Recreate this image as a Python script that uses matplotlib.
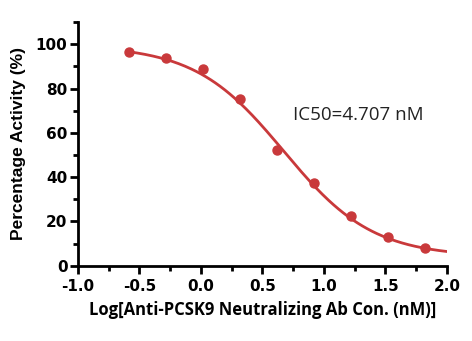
import matplotlib
matplotlib.use('Agg')
import matplotlib.pyplot as plt
import numpy as np
from matplotlib.ticker import MultipleLocator

plt.rcParams['axes.unicode_minus'] = False

# data (log10 nM, % activity)
log_conc = [-0.584, -0.283, 0.018, 0.319, 0.620, 0.921, 1.222, 1.523, 1.824]
activity = [96.3, 93.8, 88.7, 75.3, 52.2, 37.2, 22.6, 13.1, 7.9]

# 4PL fit parameters
top = 99.5
bottom = 4.0
ic50 = 4.707
hill = 1.2

red = '#c9393b'

fig = plt.figure(figsize=(4.72, 3.41), dpi=100)
ax = fig.add_axes([0.165, 0.221, 0.782, 0.714])

xfit = np.linspace(log_conc[0], 2.0, 200)
yfit = bottom + (top - bottom) / (1 + 10 ** ((xfit - np.log10(ic50)) * hill))
ax.plot(xfit, yfit, color=red, lw=2.0, zorder=2)
ax.plot(log_conc, activity, 'o', color=red, ms=6.5, zorder=3)

ax.set_xlim(-1.0, 2.0)
ax.set_ylim(0, 110)
ax.xaxis.set_major_locator(MultipleLocator(0.5))
ax.xaxis.set_minor_locator(MultipleLocator(0.25))
ax.set_yticks([0, 20, 40, 60, 80, 100])
ax.yaxis.set_minor_locator(MultipleLocator(10))

for s in ['top', 'right']:
    ax.spines[s].set_visible(False)
for s in ['left', 'bottom']:
    ax.spines[s].set_linewidth(2.0)

ax.tick_params(which='major', direction='out', length=5.5, width=2.0, pad=2)
ax.tick_params(axis='x', which='major', pad=4)
ax.tick_params(which='minor', direction='out', length=3.5, width=2.0)
for label in ax.get_xticklabels() + ax.get_yticklabels():
    label.set_fontsize(11)
    label.set_fontweight('bold')
    label.set_fontfamily('DejaVu Sans')

ax.set_ylabel('Percentage Activity (%)', fontsize=12.5, fontweight='bold',
              fontfamily='Liberation Sans', labelpad=7)
ax.set_xlabel('Log[Anti-PCSK9 Neutralizing Ab Con. (nM)]', fontsize=12,
              fontweight='bold', fontfamily='Open Sans', labelpad=5)

ax.text(0.747, 68, 'IC50=4.707 nM', fontsize=13.5, fontfamily='Open Sans',
        color='#222222', va='center', ha='left')

plt.savefig('out.png', dpi=100)
